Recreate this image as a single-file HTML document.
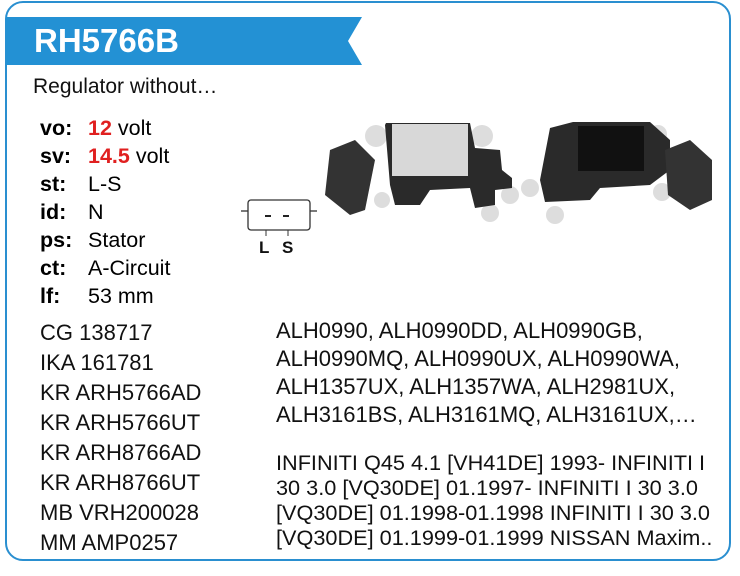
<!DOCTYPE html>
<html><head><style>
body{margin:0;width:740px;height:576px;background:#fff;font-family:"Liberation Sans",Arial,sans-serif;position:relative;overflow:hidden}
.card{position:absolute;left:5px;top:1px;width:726px;height:560px;border:2px solid #2a8fd0;border-radius:18px;box-sizing:border-box}
.t{position:absolute;white-space:nowrap;color:#111}
.b{font-weight:bold}
.r{color:#e02020}
</style></head><body>
<div class="card"></div>
<svg style="position:absolute;left:0;top:0" width="740" height="576">
<polygon points="6,17 362,17 348,41 362,65 6,65" fill="#2391d4"/>
<rect x="248" y="200" width="62" height="30" rx="3" fill="none" stroke="#333" stroke-width="1.3"/>
<line x1="241" y1="211" x2="248" y2="211" stroke="#333" stroke-width="1.3"/>
<line x1="310" y1="211" x2="317" y2="211" stroke="#333" stroke-width="1.3"/>
<line x1="265" y1="216" x2="271" y2="216" stroke="#222" stroke-width="2"/>
<line x1="283" y1="216" x2="289" y2="216" stroke="#222" stroke-width="2"/>
<line x1="266" y1="230" x2="266" y2="236" stroke="#333"/>
<line x1="288" y1="230" x2="288" y2="236" stroke="#333"/>
<circle cx="376" cy="136" r="11" fill="#ddd"/><circle cx="482" cy="136" r="11" fill="#ddd"/>
<circle cx="510" cy="195" r="9" fill="#ddd"/><circle cx="490" cy="213" r="9" fill="#ddd"/><circle cx="382" cy="200" r="8" fill="#ddd"/>
<polygon points="385,125 386,123 470,123 475,148 500,150 502,170 512,178 512,188 495,190 495,205 475,208 470,188 430,190 420,205 395,205 390,185" fill="#2a2a2a"/>
<polygon points="330,150 355,140 375,160 365,210 350,215 325,195" fill="#333"/>
<rect x="392" y="124" width="76" height="52" fill="#d8d8d8"/>
<circle cx="562" cy="136" r="9" fill="#ddd"/><circle cx="658" cy="134" r="9" fill="#ddd"/>
<circle cx="530" cy="188" r="9" fill="#ddd"/><circle cx="555" cy="215" r="9" fill="#ddd"/><circle cx="662" cy="192" r="9" fill="#ddd"/>
<polygon points="550,128 573,122 650,122 670,140 670,170 650,185 600,188 590,200 545,202 540,180" fill="#2a2a2a"/>
<polygon points="665,150 690,140 712,160 712,200 690,210 668,195" fill="#333"/>
<rect x="578" y="126" width="66" height="45" fill="#111"/>
</svg>
<div class="t b" style="left:34px;top:21px;font-size:33px;color:#fff;line-height:40px">RH5766B</div>
<div class="t" style="left:33px;top:75px;font-size:21px">Regulator without…</div>
<div style="position:absolute;left:40px;top:114px;font-size:21.5px;line-height:28px;white-space:nowrap">
<div><span class="b" style="display:inline-block;width:48px">vo:</span><span class="r b">12</span> volt</div>
<div><span class="b" style="display:inline-block;width:48px">sv:</span><span class="r b">14.5</span> volt</div>
<div><span class="b" style="display:inline-block;width:48px">st:</span>L-S</div>
<div><span class="b" style="display:inline-block;width:48px">id:</span>N</div>
<div><span class="b" style="display:inline-block;width:48px">ps:</span>Stator</div>
<div><span class="b" style="display:inline-block;width:48px">ct:</span>A-Circuit</div>
<div><span class="b" style="display:inline-block;width:48px">lf:</span>53 mm</div>
</div>
<div class="t b" style="left:259px;top:238px;font-size:17px">L</div>
<div class="t b" style="left:282px;top:238px;font-size:17px">S</div>
<div style="position:absolute;left:40px;top:318px;font-size:22px;line-height:30px;color:#111;white-space:nowrap">
CG 138717<br>IKA 161781<br>KR ARH5766AD<br>KR ARH5766UT<br>KR ARH8766AD<br>KR ARH8766UT<br>MB VRH200028<br>MM AMP0257</div>
<div style="position:absolute;left:276px;top:317px;font-size:22px;line-height:28px;color:#111;white-space:nowrap">
ALH0990, ALH0990DD, ALH0990GB,<br>ALH0990MQ, ALH0990UX, ALH0990WA,<br>ALH1357UX, ALH1357WA, ALH2981UX,<br>ALH3161BS, ALH3161MQ, ALH3161UX,…</div>
<div style="position:absolute;left:276px;top:450px;font-size:21.7px;line-height:25px;color:#111;white-space:nowrap;height:100px;overflow:hidden">
INFINITI Q45 4.1 [VH41DE] 1993- INFINITI I<br>30 3.0 [VQ30DE] 01.1997- INFINITI I 30 3.0<br>[VQ30DE] 01.1998-01.1998 INFINITI I 30 3.0<br>[VQ30DE] 01.1999-01.1999 NISSAN Maxim..</div>
</body></html>
